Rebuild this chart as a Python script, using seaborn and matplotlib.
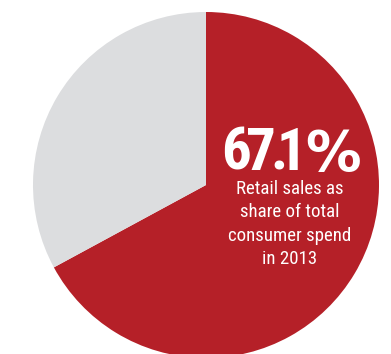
import matplotlib
matplotlib.use("Agg")
import matplotlib.pyplot as plt
from matplotlib import font_manager
import seaborn as sns

# Share of total consumer spend, 2013
categories = ["Retail sales", "Other consumer spend"]
shares = [67.1, 32.9]
headline = "67.1%"
caption_lines = ["Retail sales as", "share of total", "consumer spend", "in 2013"]

colors = ["#B52028", "#DCDDDF"]

sns.set_theme(style="white")

installed = {f.name for f in font_manager.fontManager.ttflist}
preferred = ["Roboto Condensed", "Liberation Sans Narrow", "Open Sans Condensed",
             "DejaVu Sans Condensed", "Roboto", "DejaVu Sans"]
family = next(f for f in preferred if f in installed or f == "DejaVu Sans")
plt.rcParams["font.family"] = [family, "DejaVu Sans"]

W, H = 391, 354
fig = plt.figure(figsize=(W / 100, H / 100), dpi=100)
ax = fig.add_axes([0, 0, 1, 1])

ax.pie(shares, colors=colors, startangle=90, counterclock=False,
       center=(206, H - 185), radius=173,
       wedgeprops=dict(linewidth=0, antialiased=True))
ax.set_xlim(0, W)
ax.set_ylim(0, H)
ax.set_aspect("equal")
ax.axis("off")

# Headline set glyph by glyph for tight, display-style spacing;
# the percent sign uses a wider face
glyph_x = [236.5, 260.5, 279.5, 291.5, 333]
for ch, gx in zip(headline, glyph_x):
    if ch == "%":
        ax.text(gx, H - 170, ch, color="white", fontsize=40, fontweight="bold",
                family="DejaVu Sans", ha="center", va="baseline")
    else:
        ax.text(gx, H - 170, ch, color="white", fontsize=42.5, fontweight="bold",
                ha="center", va="baseline")

cx = 290
for i, line in enumerate(caption_lines):
    ax.text(cx, H - (194 + 23.4 * i), line, color="white", fontsize=13.6,
            ha="center", va="baseline")

fig.savefig("out.png", dpi=100, facecolor="white")
